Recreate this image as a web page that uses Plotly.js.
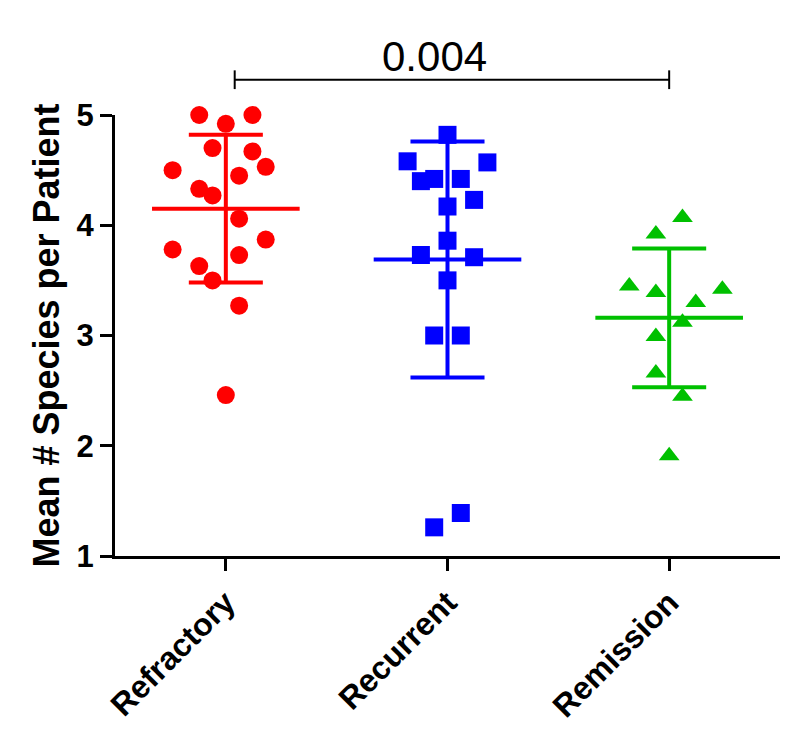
<!DOCTYPE html>
<html>
<head>
<meta charset="utf-8">
<script src="https://cdn.plot.ly/plotly-3.0.1.min.js"></script>
<style>
  html, body { margin: 0; padding: 0; background: #ffffff; }
  #chart { width: 800px; height: 755px; }
</style>
</head>
<body>
<div id="chart"></div>
<script>
// ---- data ----
var categories = ["Refractory", "Recurrent", "Remission"];

var refractoryValues = [5.00, 5.00, 4.92, 4.70, 4.67, 4.50, 4.53, 4.45, 4.33, 4.27, 4.06, 3.78, 3.87, 3.73, 3.63, 3.50, 3.27, 2.46];
var refractoryJitter = [-2, 2, 0, -1, 2, -4, 3, 1, -2, -1, 1, -4, 3, 1, -2, -1, 1, 0];

var recurrentValues = [4.82, 4.58, 4.57, 4.40, 4.42, 4.42, 4.23, 4.17, 3.86, 3.73, 3.71, 3.50, 3.00, 3.00, 1.39, 1.26];
var recurrentJitter = [0, -3, 3, -2, -1, 1, 2, 0, 0, -2, 2, 0, -1, 1, 1, -1];

var remissionValues = [4.07, 3.92, 3.45, 3.39, 3.42, 3.30, 3.12, 2.99, 2.66, 2.45, 1.91];
var remissionJitter = [1, -1, -3, -1, 4, 2, 1, -1, -1, 1, 0];

var groupMeans = [4.15, 3.69, 3.16];
var groupSDs = [0.67, 1.07, 0.63];

var yTickValues = [1, 2, 3, 4, 5];
var pValueText = "0.004";
var pBracketGroups = [0, 2];
var pBracketValue = 5.32;
var pTextValue = 5.53;

// ---- styling ----
var colors = ["#ff0000", "#0000ff", "#00c000"];
var symbols = ["circle", "square", "triangle-up"];
var jitterStep = 0.06;
var meanHalf = 0.333, capHalf = 0.167;
var yMin = 1, yMax = 5;
var FONT = "Arial, 'Liberation Sans', Helvetica, sans-serif";

var groups = [
  {v: refractoryValues, j: refractoryJitter},
  {v: recurrentValues, j: recurrentJitter},
  {v: remissionValues, j: remissionJitter}
];

var traces = [];
// mean & SD lines first (points drawn above)
groups.forEach(function (g, i) {
  var m = groupMeans[i], s = groupSDs[i];
  traces.push({
    type: "scatter", mode: "lines", hoverinfo: "skip", showlegend: false,
    x: [i - meanHalf, i + meanHalf, null, i, i, null, i - capHalf, i + capHalf, null, i - capHalf, i + capHalf],
    y: [m, m, null, m - s, m + s, null, m + s, m + s, null, m - s, m - s],
    line: {color: colors[i], width: 4},
    cliponaxis: false
  });
});
groups.forEach(function (g, i) {
  traces.push({
    type: "scatter", mode: "markers", showlegend: false, name: categories[i],
    x: g.j.map(function (k) { return i + k * jitterStep; }),
    y: g.v,
    marker: {color: colors[i], symbol: symbols[i], size: 18},
    cliponaxis: false
  });
});

function py(v) { return (v - yMin) / (yMax - yMin); }
var bx0 = pBracketGroups[0] + 0.04, bx1 = pBracketGroups[1];
var tickH = 0.085;
var shapes = [
  {type: "line", xref: "x", yref: "paper", x0: bx0, x1: bx1, y0: py(pBracketValue), y1: py(pBracketValue), line: {color: "#000", width: 2}},
  {type: "line", xref: "x", yref: "paper", x0: bx0, x1: bx0, y0: py(pBracketValue - tickH), y1: py(pBracketValue + tickH), line: {color: "#000", width: 2}},
  {type: "line", xref: "x", yref: "paper", x0: bx1, x1: bx1, y0: py(pBracketValue - tickH), y1: py(pBracketValue + tickH), line: {color: "#000", width: 2}}
];

var layout = {
  width: 800, height: 755,
  margin: {l: 115, r: 20, t: 115, b: 199},
  paper_bgcolor: "#ffffff", plot_bgcolor: "#ffffff",
  font: {family: FONT, color: "#000"},
  showlegend: false,
  xaxis: {
    range: [-0.5, 2.5],
    tickvals: [0, 1, 2], ticktext: categories,
    tickangle: -45,
    tickfont: {size: 32, weight: "bold", family: FONT, color: "#000"},
    showgrid: false, zeroline: false,
    showline: true, linecolor: "#000", linewidth: 3,
    ticks: "outside", ticklen: 12, tickwidth: 3, tickcolor: "#000",
    fixedrange: true
  },
  yaxis: {
    range: [yMin, yMax],
    tickvals: yTickValues,
    tickfont: {size: 31, weight: "bold", family: FONT, color: "#000"},
    showgrid: false, zeroline: false,
    showline: true, linecolor: "#000", linewidth: 3,
    ticks: "outside", ticklen: 12, tickwidth: 3, tickcolor: "#000",
    title: {text: "Mean # Species per Patient", font: {size: 36, weight: "bold", family: FONT, color: "#000"}, standoff: 6},
    fixedrange: true
  },
  shapes: shapes,
  annotations: [{
    xref: "x", yref: "paper", x: 0.94, y: py(pTextValue),
    text: pValueText, showarrow: false,
    xanchor: "center", yanchor: "middle",
    font: {size: 42, family: FONT, color: "#000"}
  }]
};

Plotly.newPlot("chart", traces, layout, {displayModeBar: false, staticPlot: true});
</script>
</body>
</html>
